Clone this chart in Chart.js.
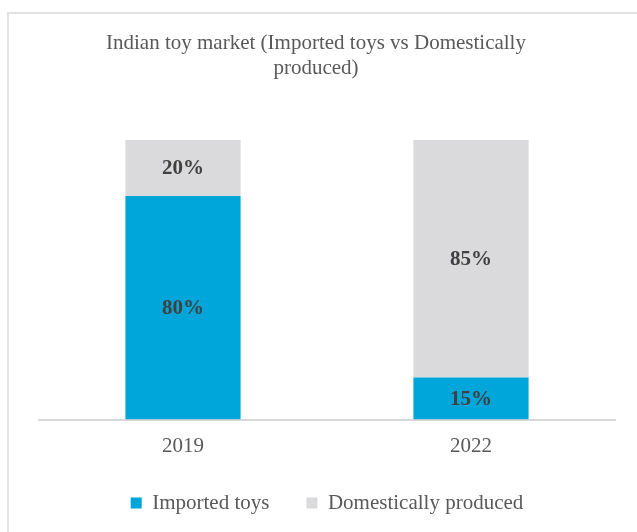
<!DOCTYPE html>
<html>
<head>
<meta charset="utf-8">
<script src="https://cdn.jsdelivr.net/npm/chart.js@4.4.1/dist/chart.umd.min.js"></script>
<style>
  html, body { margin: 0; padding: 0; background: #fff; }
  #wrap { position: relative; width: 637px; height: 532px; overflow: hidden; }
  #frame { position: absolute; left: 7px; top: 12px; width: 660px; height: 560px;
           border: 2px solid #e3e3e3; box-sizing: border-box; }
  canvas { position: absolute; left: 0; top: 0; }
</style>
</head>
<body>
<div id="wrap">
  <div id="frame"></div>
  <canvas id="toy_chart" width="637" height="532"></canvas>
</div>
<script>
// chart values
const categories = ['2019', '2022'];
const importedShare = [80, 15];
const domesticShare = [20, 85];
const seriesNames = ['Imported toys', 'Domestically produced'];
const titleLines = ['Indian toy market (Imported toys vs Domestically', 'produced)'];

const serif = "'Liberation Serif', 'Times New Roman', serif";

// writes the % inside each stacked block
const segmentLabels = {
    id: 'segmentLabels',
    afterDatasetsDraw(chart) {
        const c = chart.ctx;
        c.save();
        c.font = 'bold 21px ' + serif;
        c.fillStyle = '#404040';
        c.textAlign = 'center';
        c.textBaseline = 'middle';
        chart.data.datasets.forEach(function (ds, i) {
            chart.getDatasetMeta(i).data.forEach(function (bar, j) {
                const mid = (bar.y + bar.base) / 2;
                c.fillText(ds.data[j] + '%', bar.x, mid + 1);
            });
        });
        c.restore();
    }
};

let ctx = document.getElementById('toy_chart').getContext('2d');
const toyChart = new Chart(ctx, {
    type: 'bar',
    data: {
        labels: categories,
        datasets: [{
            label: seriesNames[0],
            data: importedShare,
            backgroundColor: '#00a6d9',
            barPercentage: 0.4,
            categoryPercentage: 1
        }, {
            label: seriesNames[1],
            data: domesticShare,
            backgroundColor: '#dadadc',
            barPercentage: 0.4,
            categoryPercentage: 1
        }]
    },
    options: {
        responsive: false,
        animation: false,
        layout: { padding: { left: 17, right: 22, top: 0, bottom: 8.5 } },
        plugins: {
            title: {
                display: true,
                text: titleLines,
                color: '#595959',
                font: { family: serif, size: 21, weight: 'normal', lineHeight: 1.2 },
                padding: { top: 31, bottom: 58.6 }
            },
            legend: {
                position: 'bottom',
                fullSize: false,
                labels: {
                    color: '#595959',
                    font: { family: serif, size: 21, lineHeight: 1 },
                    boxWidth: 11,
                    boxHeight: 11,
                    padding: 37
                }
            },
            tooltip: { enabled: false }
        },
        scales: {
            x: {
                stacked: true,
                grid: { display: false },
                border: { color: '#d9d9d9', width: 2 },
                ticks: { color: '#595959', font: { family: serif, size: 21, lineHeight: 1 }, padding: 8 },
                afterFit: function (scale) { scale.height = 36; }
            },
            y: {
                stacked: true,
                min: 0,
                max: 100,
                grid: { display: false },
                border: { display: false },
                ticks: { display: false },
                afterFit: function (scale) { scale.width = 22; }
            }
        }
    },
    plugins: [segmentLabels]
});
</script>
</body>
</html>
